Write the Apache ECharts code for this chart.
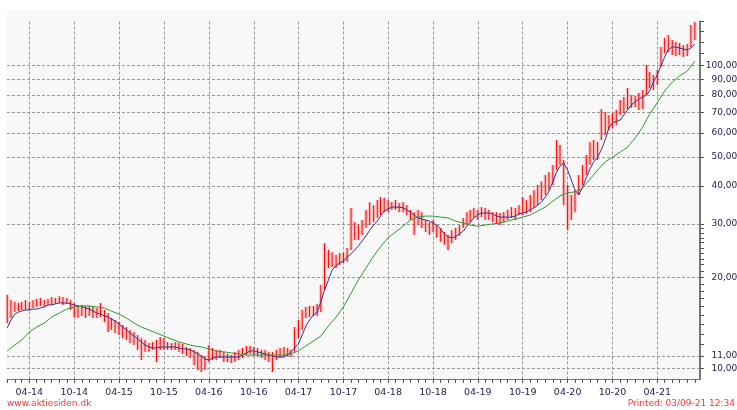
<!DOCTYPE html>
<html>
<head>
<meta charset="utf-8">
<script src="https://cdn.jsdelivr.net/npm/echarts@6/dist/echarts.min.js"></script>
<style>
  html, body { margin: 0; padding: 0; background: #fff; }
  #chart { width: 737px; height: 410px; }
</style>
</head>
<body>
<div id="chart"></div>
<script>
// half-monthly high/low ranges, from 1 Jan 2014 (1st and 16th of each month)
const highs = [
  17500,16800,16570,16440,16570,16800,16570,16800,16950,17070,
  16800,16950,17200,17070,17300,17200,17070,16800,16440,16200,
  16200,16070,16070,15950,15820,16440,15580,15230,14660,14440,
  14220,13900,13690,13380,13180,12880,12590,12400,12120,12210,
  12400,12690,12590,12210,12120,12210,12120,12030,11760,11670,
  11500,11330,11060,10980,11940,11670,11500,11500,11330,11160,
  11060,11330,11500,11670,11850,11850,11760,11670,11500,11500,
  11330,11330,11500,11670,11760,11670,11500,13690,14440,15580,
  15950,16070,16070,16320,18850,25900,24600,24200,23700,24050,
  24050,25000,33900,30400,29750,30900,33400,35400,34600,36000,
  36800,36600,36000,35400,36000,35200,35400,34600,33400,32800,
  33400,32800,30900,30400,30900,29750,29100,28200,27600,28600,
  29100,29750,31400,32800,33400,33900,33400,34100,33900,33400,
  32800,32800,32600,32800,33400,34100,33900,34600,36800,36000,
  37400,38800,40350,41400,43500,44500,47000,56800,54700,48800,
  40350,37400,38800,43500,47000,50700,55900,56800,55900,71900,
  70300,68700,69800,71400,77000,78800,84400,80000,79400,81300,
  83100,100500,95300,93200,96800,115300,123400,126300,121600,119700,
  118800,117000,117900,136300,139400
];
const lows = [
  14100,14660,15350,15460,15580,15580,15580,15820,15950,16070,
  15950,16200,16200,16320,16440,16200,16320,15580,14770,14660,
  14890,14660,14890,14660,14660,14770,14220,13180,13380,13080,
  12880,12590,12400,12120,11940,11500,10650,11330,11330,11500,
  10490,11500,11500,11500,11500,11500,11330,11160,10980,10810,
  10250,9870,9720,9870,10490,10650,10650,10810,10490,10490,
  10410,10490,10650,10810,11060,11160,11060,10980,10810,10650,
  10490,9720,10650,10810,10900,10980,10900,11330,12590,13380,
  14660,14770,14890,14890,15350,18150,21450,21600,21450,21950,
  22300,22500,24600,26550,26550,27600,29100,29750,30400,31400,
  32100,32800,32800,33400,33400,32800,32800,32100,30900,27600,
  29750,29100,28200,27600,28200,27000,26200,25600,24600,25900,
  26550,27400,29100,29750,30400,31400,30900,31600,30900,30900,
  30400,30000,29750,30400,30900,31400,30900,32100,32100,32400,
  32800,33900,34600,36000,37400,38800,40350,45200,47000,34600,
  28600,30900,32800,37400,40350,43500,47000,48800,48800,56800,
  59000,61300,62300,63700,68700,69800,71900,72500,73000,71400,
  71900,80000,84400,83100,86400,99000,110000,110900,108500,107600,
  108500,106800,107600,115300,121600
];
// short moving average, same half-monthly dates
const blueMA = [
  13600,14440,15100,15350,15460,15580,15580,15700,15700,15820,
  15950,16200,16200,16320,16440,16440,16440,16320,16200,16070,
  15950,15820,15700,15460,15230,15100,14890,14770,14550,14330,
  14000,13690,13380,13080,12780,12500,12210,11940,11760,11670,
  11670,11760,11760,11760,11760,11760,11670,11590,11590,11500,
  11330,11160,10980,10730,10650,10810,10900,10900,10900,10900,
  10900,10900,10900,11060,11240,11410,11410,11330,11240,11160,
  11060,10980,10900,10900,10900,11060,11330,11670,12030,12880,
  13800,14440,15000,15350,16570,18150,19580,21130,21800,22300,
  22600,23300,23900,24600,25400,26350,27400,28600,29750,30650,
  31850,33100,33600,34100,34100,34100,33900,33400,32800,32100,
  31400,31150,30900,30650,30200,29750,28850,27800,27200,27000,
  27200,27800,28400,29500,30400,31400,32100,32600,32600,32600,
  32400,31850,31600,31600,31600,31600,31850,32400,32600,32800,
  33400,33900,34600,35400,36800,38500,41400,44500,46600,47700,
  45200,41900,38800,37400,39700,42600,45600,48100,49900,52700,
  56800,62300,64900,65400,66150,68700,71400,74200,75900,77600,
  78800,80000,82500,88300,93200,99800,106800,112700,115300,115300,
  114400,113600,112700,114400,117900
];
// long moving average, monthly from 1 Jan 2014
const greenMA = [
  11410,11940,12400,13180,13690,14110,14770,15230,15700,15950,
  16070,16070,15950,15820,15460,15100,14660,14110,13690,13380,
  13080,12780,12500,12210,12030,11850,11760,11590,11410,11330,
  11240,11160,11060,11060,11060,11060,11060,11060,11160,11410,
  11850,12300,12780,13800,14770,15950,17700,19580,21450,23500,
  25200,27000,28200,29500,30900,31600,31850,31850,31600,31400,
  30650,30200,29750,29500,29750,30000,30200,30650,31150,31600,
  32100,33100,34100,35700,37100,38000,38300,39400,42200,45200,
  48100,49900,51800,53800,57700,62800,69200,75400,82500,88300,
  92500,96000,103400
];
const yTicks = [10000,11000,12000,13000,14000,15000,16000,17000,18000,19000,
  20000,21000,22000,23000,24000,25000,26000,27000,28000,29000,30000,
  40000,50000,60000,70000,80000,90000,100000,110000,120000,130000,140000];
const yLabels = [10000,11000,20000,30000,40000,50000,60000,70000,80000,90000,100000];

const barDates = highs.map((_, i) => Date.UTC(2014, Math.floor(i / 2), i % 2 ? 16 : 1));
const greenDates = greenMA.map((_, k) => Date.UTC(2014, k, 1));
const monthTicks = [];
for (let k = 0; k <= 92; k++) monthTicks.push(Date.UTC(2014, k, 1));
const halfYearTicks = [];
for (let k = 3; k <= 87; k += 6) halfYearTicks.push(Date.UTC(2014, k, 1));

const FONT = 'DejaVu Sans';
const labelColor = '#1e1e50';
const HALF = 15 * 864e5;
const xMin = Date.UTC(2013, 11, 31);
const xMax = Date.UTC(2021, 8, 22);

const pad = n => (n < 10 ? '0' : '') + n;
const fmtMonth = v => {
  const d = new Date(v);
  return pad(d.getUTCMonth() + 1) + '-' + pad(d.getUTCFullYear() % 100);
};
const fmtNum = v => String(Math.round(v)).replace(/\B(?=(\d{3})+(?!\d))/g, ',');

const dashed = { color: '#999', width: 1, type: [3, 2] };

const chart = echarts.init(document.getElementById('chart'));
chart.setOption({
  animation: false,
  backgroundColor: '#fff',
  grid: { left: 7, right: 37, top: 21.5, bottom: 31, containLabel: false, outerBoundsMode: 'none' },
  graphic: [
    { type: 'rect', z: -10, silent: true, shape: { x: 7, y: 10, width: 693, height: 370 }, style: { fill: '#f8f8f8' } },
    { type: 'text', left: 7, top: 399, style: { text: 'www.aktiesiden.dk', fill: '#ff3333', font: '9px "' + FONT + '"' } },
    { type: 'text', right: 2, top: 399, style: { text: 'Printed: 03/09-21 12:34', fill: '#ff3333', font: '9px "' + FONT + '"' } }
  ],
  xAxis: [
    {
      type: 'value', position: 'bottom', min: xMin, max: xMax, scale: true,
      axisLine: { show: true, lineStyle: { color: '#777', width: 1 } },
      axisTick: { show: true, length: 4, customValues: monthTicks, lineStyle: { color: '#555' } },
      axisLabel: {
        customValues: halfYearTicks, margin: 9, color: labelColor,
        fontFamily: FONT, fontSize: 9.5, formatter: fmtMonth
      },
      splitLine: { show: false }
    },
    {
      type: 'value', position: 'top', min: xMin, max: xMax, scale: true,
      axisLine: { show: false },
      axisTick: { show: false, customValues: halfYearTicks },
      axisLabel: { show: false },
      splitLine: { show: true, lineStyle: dashed }
    }
  ],
  yAxis: [
    {
      type: 'log', logBase: 10, position: 'right', min: 9218, max: 140000,
      axisLine: { show: true, lineStyle: { color: '#777', width: 2 } },
      axisTick: { show: true, length: 4, customValues: yTicks, lineStyle: { color: '#555' } },
      axisLabel: {
        customValues: yLabels, margin: 43, align: 'right', color: labelColor,
        fontFamily: FONT, fontSize: 9, formatter: fmtNum
      },
      splitLine: { show: false }
    },
    {
      type: 'log', logBase: 10, position: 'left', min: 9218, max: 140000,
      axisLine: { show: false },
      axisTick: { show: false, customValues: yLabels },
      axisLabel: { show: false },
      splitLine: { show: true, lineStyle: dashed }
    }
  ],
  series: [
    {
      type: 'custom',
      xAxisIndex: 0, yAxisIndex: 0,
      data: barDates.map((t, i) => [t, lows[i], highs[i]]),
      encode: { x: 0, y: [1, 2] },
      silent: true,
      renderItem: (params, api) => {
        const t = api.value(0);
        const lo = api.coord([t, api.value(1)]);
        const hi = api.coord([t, api.value(2)]);
        const nx = api.coord([t + HALF, api.value(1)]);
        const w = nx[0] - lo[0];
        return {
          type: 'group',
          children: [
            { type: 'rect', shape: { x: lo[0] - w / 2, y: hi[1], width: w, height: lo[1] - hi[1] },
              style: { fill: 'rgba(255,110,110,0.35)' } },
            { type: 'line', shape: { x1: lo[0], y1: lo[1], x2: hi[0], y2: hi[1] },
              style: { stroke: '#ff0000', lineWidth: 1 } }
          ]
        };
      }
    },
    {
      type: 'line', xAxisIndex: 0, yAxisIndex: 0, z: 3,
      data: barDates.map((t, i) => [t, blueMA[i]]),
      showSymbol: false, silent: true,
      lineStyle: { color: '#333399', width: 1 }
    },
    {
      type: 'line', xAxisIndex: 0, yAxisIndex: 0, z: 3,
      data: greenDates.map((t, i) => [t, greenMA[i]]),
      showSymbol: false, silent: true,
      lineStyle: { color: '#2e9a2e', width: 1 }
    }
  ]
});
</script>
</body>
</html>
